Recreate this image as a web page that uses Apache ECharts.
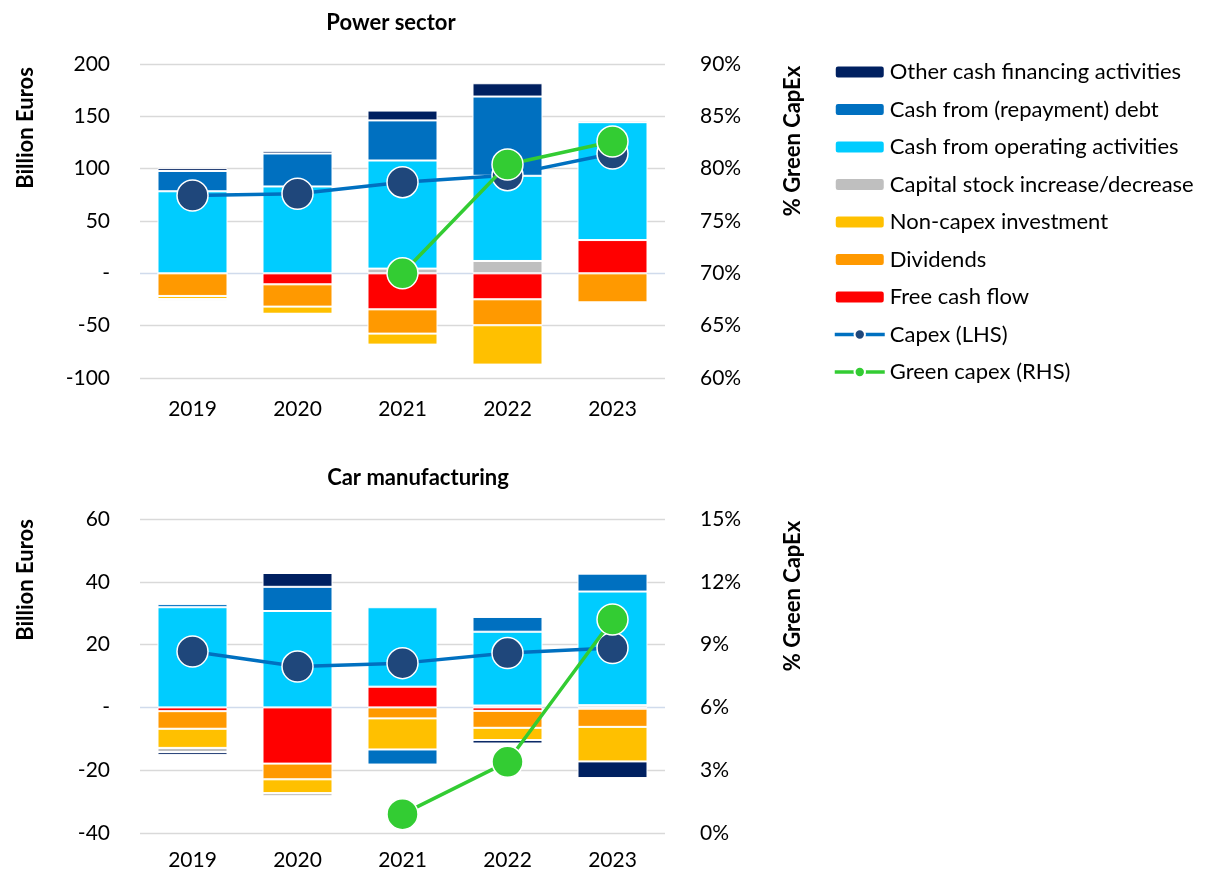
<!DOCTYPE html>
<html>
<head>
<meta charset="utf-8">
<script src="https://cdn.jsdelivr.net/npm/echarts@6/dist/echarts.min.js"></script>
<style>
  html, body { margin: 0; padding: 0; background: #fff; }
  #chart { width: 1207px; height: 878px; }
</style>
</head>
<body>
<div id="chart"></div>
<script>
// Categories
const years = ['2019', '2020', '2021', '2022', '2023'];

// Power sector, billion euros
const powerFcf       = [0, -10.5, -34.4, -24.8, 31.8];
const powerDividends = [-21.6, -21.3, -23.2, -24.8, -27.7];
const powerNonCapex  = [-2.9, -6.8, -10.5, -37.6, -1.0];
const powerCapStock  = [-2.0, 0, 4.5, 11.8, 0];
const powerOperating = [78.4, 83.0, 103.3, 81.4, 112.6];
const powerDebt      = [19.4, 31.5, 38.3, 75.7, 0];
const powerOther     = [2.7, 2.5, 9.4, 12.7, 1.5];
const powerCapex     = [74.4, 76.0, 87.1, 93.8, 114.5];
const powerGreenPct  = [null, null, 70.0, 80.4, 82.6];

// Car manufacturing, billion euros
const carFcf       = [-1.2, -17.9, 6.6, -1.1, -0.4];
const carDividends = [-5.6, -5.0, -3.5, -5.4, -5.8];
const carNonCapex  = [-6.1, -4.4, -9.9, -3.9, -11.0];
const carCapStock  = [-1.3, -1.0, 0, 0.6, 0.7];
const carOperating = [31.9, 30.7, 25.3, 23.5, 36.2];
const carDebt      = [1.0, 7.7, -4.8, 4.7, 5.7];
const carOther     = [-0.9, 4.4, 0, -1.1, -5.3];
const carCapex     = [17.8, 13.0, 14.1, 17.3, 18.9];
const carGreenPct  = [null, null, 0.9, 3.4, 10.2];

// Axis ticks
const powerLeftTicks  = { min: -100, max: 200, interval: 50 };
const powerRightTicks = { min: 60, max: 90, interval: 5 };
const carLeftTicks    = { min: -40, max: 60, interval: 20 };
const carRightTicks   = { min: 0, max: 15, interval: 3 };

// Series names (legend order)
const names = {
  other: 'Other cash financing activities',
  debt: 'Cash from (repayment) debt',
  operating: 'Cash from operating activities',
  capStock: 'Capital stock increase/decrease',
  nonCapex: 'Non-capex investment',
  dividends: 'Dividends',
  fcf: 'Free cash flow',
  capex: 'Capex (LHS)',
  green: 'Green capex (RHS)'
};

const colors = {
  other: '#002060',
  debt: '#0070c0',
  operating: '#00ccff',
  capStock: '#bfbfbf',
  nonCapex: '#ffc000',
  dividends: '#ff9900',
  fcf: '#ff0000',
  capexLine: '#0070c0',
  capexDot: '#1f477b',
  green: '#33cc33'
};

const FONT = 'Lato, "Open Sans", sans-serif';
const TICK_SIZE = 21;
const GRID_COLOR = '#d9d9d9';
const ZERO_COLOR = '#d0dbec';

function barSeries(key, data, axisIdx, stack) {
  return {
    name: names[key],
    type: 'bar',
    stack: stack,
    xAxisIndex: axisIdx,
    yAxisIndex: axisIdx * 2,
    barWidth: 70,
    data: data,
    itemStyle: { color: colors[key], borderColor: '#ffffff', borderWidth: 1 },
    emphasis: { disabled: true }
  };
}

function lineSeries(key, data, xIdx, yIdx, lineColor, dotColor) {
  return {
    name: names[key],
    type: 'line',
    xAxisIndex: xIdx,
    yAxisIndex: yIdx,
    data: data,
    symbol: 'circle',
    symbolSize: 31,
    connectNulls: false,
    z: key === 'green' ? 4 : 3,
    lineStyle: { color: lineColor, width: 3.5 },
    itemStyle: { color: dotColor, borderColor: '#ffffff', borderWidth: 1.5 },
    emphasis: { disabled: true }
  };
}

function panelSeries(idx, d) {
  const stack = 'flow' + idx;
  return [
    barSeries('fcf', d.fcf, idx, stack),
    barSeries('dividends', d.dividends, idx, stack),
    barSeries('nonCapex', d.nonCapex, idx, stack),
    barSeries('capStock', d.capStock, idx, stack),
    barSeries('operating', d.operating, idx, stack),
    barSeries('debt', d.debt, idx, stack),
    barSeries('other', d.other, idx, stack),
    lineSeries('capex', d.capex, idx, idx * 2, colors.capexLine, colors.capexDot),
    lineSeries('green', d.green, idx, idx * 2 + 1, colors.green, colors.green)
  ];
}

function splitColors(t) {
  const arr = [];
  for (let v = t.min; v <= t.max; v += t.interval) arr.push(v === 0 ? ZERO_COLOR : GRID_COLOR);
  return arr;
}

function leftAxis(gridIndex, t) {
  return {
    type: 'value', gridIndex: gridIndex, position: 'left',
    min: t.min, max: t.max, interval: t.interval,
    axisLine: { show: false }, axisTick: { show: false },
    axisLabel: {
      margin: 30, fontFamily: FONT, fontSize: TICK_SIZE, color: '#000',
      formatter: v => (v === 0 ? '-' : String(v))
    },
    splitLine: { show: true, lineStyle: { color: splitColors(t), width: 1.3 } }
  };
}

function rightAxis(gridIndex, t) {
  return {
    type: 'value', gridIndex: gridIndex, position: 'right',
    min: t.min, max: t.max, interval: t.interval,
    axisLine: { show: false }, axisTick: { show: false },
    axisLabel: { margin: 35, fontFamily: FONT, fontSize: TICK_SIZE, color: '#000', formatter: '{value}%' },
    splitLine: { show: false }
  };
}

function catAxis(gridIndex, margin) {
  return {
    type: 'category', gridIndex: gridIndex, data: years,
    axisLine: { show: false }, axisTick: { show: false },
    axisLabel: { margin: margin, fontFamily: FONT, fontSize: TICK_SIZE, color: '#000' }
  };
}

function axisTitle(text, x, y) {
  return {
    type: 'text', x: x, y: y, rotation: Math.PI / 2, silent: true,
    style: {
      text: text, x: 0, y: 0, align: 'center', verticalAlign: 'middle',
      font: 'bold 22px ' + FONT, fill: '#000'
    }
  };
}

const chart = echarts.init(document.getElementById('chart'), null, { renderer: 'canvas' });

chart.setOption({
  animation: false,
  backgroundColor: '#ffffff',
  title: [
    { text: 'Power sector', left: 386, top: 7, textAlign: 'center',
      textStyle: { fontFamily: FONT, fontSize: 22, fontWeight: 'bold', color: '#000' } },
    { text: 'Car manufacturing', left: 413, top: 462, textAlign: 'center',
      textStyle: { fontFamily: FONT, fontSize: 22, fontWeight: 'bold', color: '#000' } }
  ],
  legend: {
    orient: 'vertical',
    left: 833, top: 61, padding: 0,
    itemWidth: 50, itemHeight: 13, itemGap: 15.5,
    textStyle: { fontFamily: FONT, fontSize: 22, color: '#000', lineHeight: 22 },
    data: [
      names.other, names.debt, names.operating, names.capStock, names.nonCapex,
      names.dividends, names.fcf,
      { name: names.capex, lineStyle: { width: 3.5 } },
      { name: names.green, lineStyle: { width: 3.5 } }
    ],
    selectedMode: false
  },
  grid: [
    { left: 140, width: 525, top: 64, height: 314 },
    { left: 140, width: 525, top: 519, height: 314 }
  ],
  xAxis: [catAxis(0, 21), catAxis(1, 17)],
  yAxis: [
    leftAxis(0, powerLeftTicks), rightAxis(0, powerRightTicks),
    leftAxis(1, carLeftTicks), rightAxis(1, carRightTicks)
  ],
  graphic: [
    axisTitle('Billion Euros', 26, 128),
    axisTitle('% Green CapEx', 793, 141),
    axisTitle('Billion Euros', 26, 580),
    axisTitle('% Green CapEx', 793, 596)
  ],
  series: [].concat(
    panelSeries(0, {
      fcf: powerFcf, dividends: powerDividends, nonCapex: powerNonCapex, capStock: powerCapStock,
      operating: powerOperating, debt: powerDebt, other: powerOther,
      capex: powerCapex, green: powerGreenPct
    }),
    panelSeries(1, {
      fcf: carFcf, dividends: carDividends, nonCapex: carNonCapex, capStock: carCapStock,
      operating: carOperating, debt: carDebt, other: carOther,
      capex: carCapex, green: carGreenPct
    })
  )
});
</script>
</body>
</html>
